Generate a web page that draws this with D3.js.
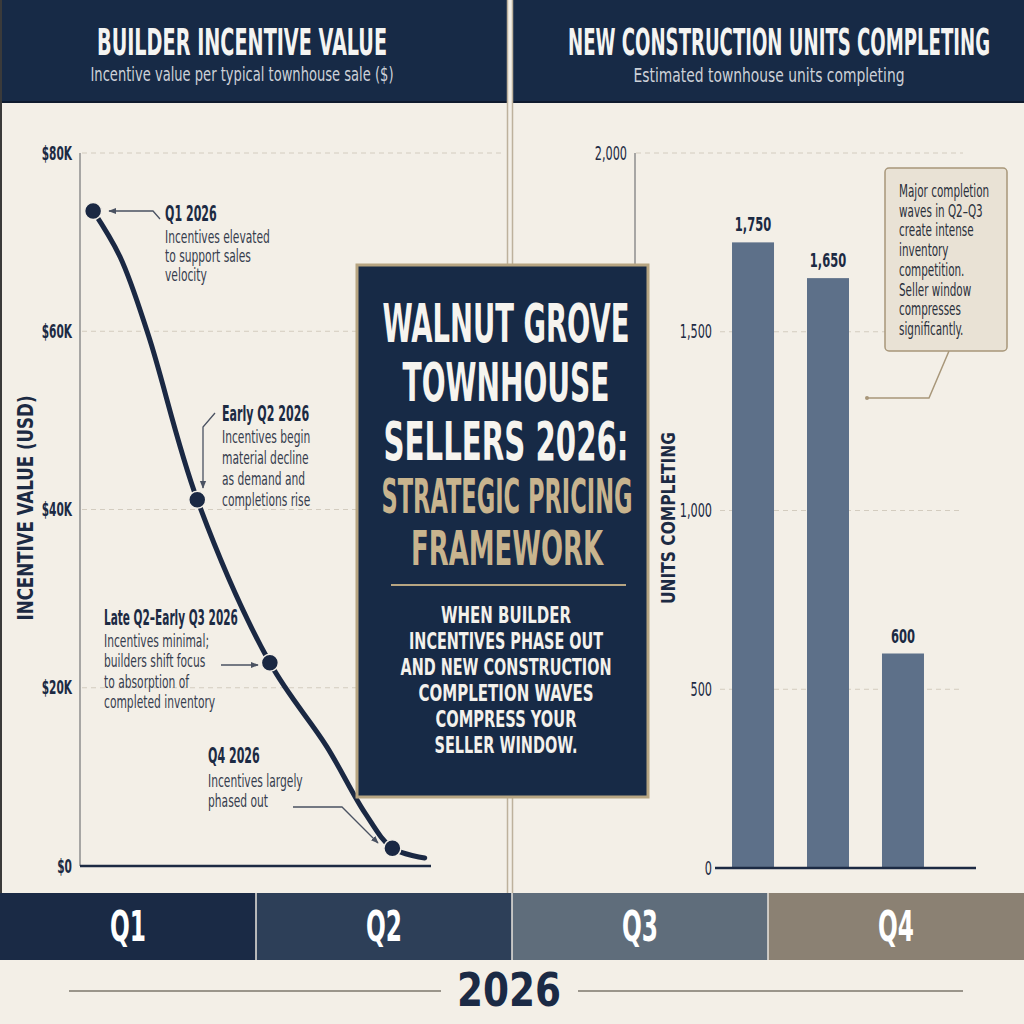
<!DOCTYPE html>
<html>
<head>
<meta charset="utf-8">
<script src="https://cdn.jsdelivr.net/npm/d3@7"></script>
<style>
body { margin: 0; background: #f3efe7; }
svg { display: block; }
text { font-family: "Liberation Sans Narrow", "Arial Narrow", "DejaVu Sans Condensed", sans-serif; }
</style>
</head>
<body>
<svg width="1024" height="1024"></svg>
<script>
// incentive curve, time in quarters of 2026 (0 = start of Q1)
const incentiveT = [0.15, 0.46, 0.78, 1.34, 2.17, 2.82, 3.26, 3.57, 3.94];
const incentiveVal = [73500, 68300, 59600, 41100, 22800, 13400, 5900, 2000, 900];
const markerIdx = [0, 3, 4, 7];
const incentiveTicks = [0, 20000, 40000, 60000, 80000];

// units completing
const unitCats = ["Q2", "Q3", "Q4"];
const unitVals = [1750, 1650, 600];
const unitTicks = [0, 500, 1000, 1500, 2000];

const quarters = ["Q1", "Q2", "Q3", "Q4"];
const yearLabel = "2026";

const noteTitles = ["Q1 2026", "Early Q2 2026", "Late Q2\u2013Early Q3 2026", "Q4 2026"];
const noteBodies = [
	["Incentives elevated", "to support sales", "velocity"],
	["Incentives begin", "material decline", "as demand and", "completions rise"],
	["Incentives minimal;", "builders shift focus", "to absorption of", "completed inventory"],
	["Incentives largely", "phased out"]
];
const boxTitle = ["WALNUT GROVE", "TOWNHOUSE", "SELLERS 2026:"];
const boxTitleGold = ["STRATEGIC PRICING", "FRAMEWORK"];
const boxBody = ["WHEN BUILDER", "INCENTIVES PHASE OUT", "AND NEW CONSTRUCTION", "COMPLETION  WAVES", "COMPRESS YOUR", "SELLER WINDOW."];
const sideNote = ["Major completion", "waves in Q2\u2013Q3", "create intense", "inventory", "competition.", "Seller window", "compresses", "significantly."];

const navy = "#172a46";
const ink = "#1c2a43";
const cream = "#f3efe7";
const tan = "#b7a582";

let svg = d3.select("svg");

// squeeze text to a given width (condensed look)
function fit(sel, w) {
	sel.attr("textLength", w).attr("lengthAdjust", "spacingAndGlyphs");
	return sel;
}
// squeeze text by a factor of its natural width
function cond(sel, f) {
	sel.each(function() {
		const l = this.getComputedTextLength();
		d3.select(this).attr("textLength", l * f).attr("lengthAdjust", "spacingAndGlyphs");
	});
	return sel;
}

// ---- header
svg.append("rect").attr("x", 0).attr("y", 0).attr("width", 1024).attr("height", 103).attr("fill", navy);
svg.append("line").attr("x1", 0).attr("x2", 1024).attr("y1", 102).attr("y2", 102)
	.attr("stroke", "#0e1a2e").attr("stroke-width", 2);

fit(svg.append("text").attr("x", 242).attr("y", 55).attr("text-anchor", "middle")
	.attr("font-size", 37).attr("font-weight", "bold").attr("fill", "#f4f4f2")
	.text("BUILDER INCENTIVE VALUE"), 290);
fit(svg.append("text").attr("x", 242).attr("y", 81).attr("text-anchor", "middle")
	.attr("font-size", 19).attr("fill", "#cdd1d8")
	.text("Incentive value per typical townhouse sale ($)"), 303);
fit(svg.append("text").attr("x", 779).attr("y", 55).attr("text-anchor", "middle")
	.attr("font-size", 37).attr("font-weight", "bold").attr("fill", "#f4f4f2")
	.text("NEW CONSTRUCTION UNITS COMPLETING"), 422);
fit(svg.append("text").attr("x", 769).attr("y", 82).attr("text-anchor", "middle")
	.attr("font-size", 19).attr("fill", "#cdd1d8")
	.text("Estimated townhouse units completing"), 271);

// ---- panel divider
svg.append("rect").attr("x", 507).attr("y", 0).attr("width", 6).attr("height", 893).attr("fill", cream);
svg.append("line").attr("x1", 507.5).attr("x2", 507.5).attr("y1", 0).attr("y2", 893).attr("stroke", "#bdb19c").attr("stroke-width", 1.5);
svg.append("line").attr("x1", 512.5).attr("x2", 512.5).attr("y1", 0).attr("y2", 893).attr("stroke", "#bdb19c").attr("stroke-width", 1.5);
svg.append("rect").attr("x", 0).attr("y", 0).attr("width", 2).attr("height", 893).attr("fill", "#3a3a3a");

// ---- left chart: builder incentives
const xL = d3.scaleLinear().domain([0, 4]).range([80, 430]);
const yL = d3.scaleLinear().domain([0, 80000]).range([866, 153]);

svg.append("g").selectAll("line").data(incentiveTicks.filter(d => d > 0)).join("line")
	.attr("x1", 82).attr("x2", 505)
	.attr("y1", d => yL(d)).attr("y2", d => yL(d))
	.attr("stroke", "#d3ccbf").attr("stroke-width", 1).attr("stroke-dasharray", "5,4");

svg.append("line").attr("x1", 80).attr("x2", 80).attr("y1", yL(80000)).attr("y2", yL(0))
	.attr("stroke", "#8e8e8e").attr("stroke-width", 1.5);
svg.append("line").attr("x1", 80).attr("x2", 431).attr("y1", yL(0)).attr("y2", yL(0))
	.attr("stroke", ink).attr("stroke-width", 2.5);

cond(svg.append("g").selectAll("text").data(incentiveTicks).join("text")
	.attr("x", 72).attr("y", d => yL(d)).attr("dy", "0.35em")
	.attr("text-anchor", "end").attr("font-size", 19).attr("font-weight", "bold").attr("fill", ink)
	.text(d => d == 0 ? "$0" : "$" + d / 1000 + "K"), 0.62);

fit(svg.append("text").attr("transform", "translate(33,508) rotate(-90)")
	.attr("text-anchor", "middle").attr("font-size", 21).attr("font-weight", "bold").attr("fill", ink)
	.text("INCENTIVE VALUE (USD)"), 225);

const pts = incentiveT.map((t, i) => ({t: t, v: incentiveVal[i]}));
const lineF = d3.line().x(d => xL(d.t)).y(d => yL(d.v)).curve(d3.curveCatmullRom.alpha(0.5));
svg.append("path").datum(pts).attr("d", lineF)
	.attr("fill", "none").attr("stroke", "#1a2843").attr("stroke-width", 5).attr("stroke-linecap", "round");

svg.append("g").selectAll("circle").data(markerIdx.map(i => pts[i])).join("circle")
	.attr("cx", d => xL(d.t)).attr("cy", d => yL(d.v)).attr("r", 8.5)
	.attr("fill", "#1a2843").attr("stroke", cream).attr("stroke-width", 1.5);

// arrowhead
svg.append("defs").append("marker").attr("id", "arr")
	.attr("viewBox", "0 0 10 10").attr("refX", 9).attr("refY", 5)
	.attr("markerWidth", 6).attr("markerHeight", 6).attr("orient", "auto")
	.append("path").attr("d", "M0,1 L10,5 L0,9 Z").attr("fill", "#4a5262");

// annotations
const notePos = [
	{x: 165, y: 221, lh: 19, path: "M160,219 L153,211 L109,211"},
	{x: 222, y: 421, lh: 21, path: "M215,413 L203,427 L203,488"},
	{x: 104, y: 625, lh: 20.3, path: "M221,665 L258,665"},
	{x: 208, y: 763, lh: 20, path: "M293,807 L342,807 L378,843"}
];
notePos.forEach((p, i) => {
	svg.append("path").attr("d", p.path).attr("fill", "none")
		.attr("stroke", "#4a5262").attr("stroke-width", 1.3).attr("marker-end", "url(#arr)");
	cond(svg.append("text").attr("x", p.x).attr("y", p.y)
		.attr("font-size", 20.5).attr("font-weight", "bold").attr("fill", ink)
		.text(noteTitles[i]), i == 2 ? 0.57 : 0.6);
	cond(svg.append("g").selectAll("text").data(noteBodies[i]).join("text")
		.attr("x", p.x).attr("y", (d, j) => p.y + 22 + j * p.lh + (i == 3 ? 2 : 0))
		.attr("font-size", 17.5).attr("fill", "#363d4e")
		.text(d => d), 0.68);
});

// ---- right chart: units completing
const xR = d3.scaleBand().domain(unitCats).range([715, 941]).paddingInner(0.44).paddingOuter(0.227);
const yR = d3.scaleLinear().domain([0, 2000]).range([868, 153]);

svg.append("g").selectAll("line").data(unitTicks.filter(d => d > 0)).join("line")
	.attr("x1", d => d == 2000 ? 636 : 720).attr("x2", 963)
	.attr("y1", d => yR(d)).attr("y2", d => yR(d))
	.attr("stroke", "#d3ccbf").attr("stroke-width", 1).attr("stroke-dasharray", "5,4");

svg.append("line").attr("x1", 635).attr("x2", 635).attr("y1", yR(2000)).attr("y2", 266)
	.attr("stroke", "#8e8e8e").attr("stroke-width", 1.5);

cond(svg.append("g").selectAll("text").data(unitTicks).join("text")
	.attr("x", d => d == 2000 ? 627 : 712).attr("y", d => yR(d)).attr("dy", "0.35em")
	.attr("text-anchor", "end").attr("font-size", 19).attr("fill", ink)
	.text(d => d3.format(",")(d)), 0.66);

svg.append("g").selectAll("rect").data(unitVals).join("rect")
	.attr("x", (d, i) => xR(unitCats[i])).attr("width", xR.bandwidth())
	.attr("y", d => yR(d)).attr("height", d => yR(0) - yR(d))
	.attr("fill", "#5d7089");

cond(svg.append("g").selectAll("text").data(unitVals).join("text")
	.attr("x", (d, i) => xR(unitCats[i]) + xR.bandwidth() / 2).attr("y", d => yR(d) - 11)
	.attr("text-anchor", "middle").attr("font-size", 20).attr("font-weight", "bold").attr("fill", ink)
	.text(d => d3.format(",")(d)), 0.64);

svg.append("line").attr("x1", 715).attr("x2", 976).attr("y1", yR(0)).attr("y2", yR(0))
	.attr("stroke", ink).attr("stroke-width", 2.5);

fit(svg.append("text").attr("transform", "translate(675,518) rotate(-90)")
	.attr("text-anchor", "middle").attr("font-size", 19).attr("font-weight", "bold").attr("fill", ink)
	.text("UNITS COMPLETING"), 172);

// side note
svg.append("path").attr("d", "M949,351 L929,398 L867,398").attr("fill", "none")
	.attr("stroke", "#a8977a").attr("stroke-width", 1.5);
svg.append("circle").attr("cx", 867).attr("cy", 398).attr("r", 2).attr("fill", "#a8977a");
svg.append("rect").attr("x", 885).attr("y", 168).attr("width", 122).attr("height", 183).attr("rx", 4)
	.attr("fill", "#e9e2d5").attr("stroke", "#a8977a").attr("stroke-width", 1.5);
cond(svg.append("g").selectAll("text").data(sideNote).join("text")
	.attr("x", 899).attr("y", (d, i) => 197 + i * 19.7)
	.attr("font-size", 17).attr("fill", "#2b303b")
	.text(d => d), 0.68);

// ---- centre box
svg.append("rect").attr("x", 357).attr("y", 265).attr("width", 291).attr("height", 532)
	.attr("fill", navy).attr("stroke", tan).attr("stroke-width", 3);
const titleW = [247, 207, 245];
svg.append("g").selectAll("text").data(boxTitle).join("text")
	.attr("x", 506).attr("y", (d, i) => 342 + i * 59)
	.attr("text-anchor", "middle").attr("font-size", 54).attr("font-weight", "bold").attr("fill", "#f6f4ef")
	.text(d => d)
	.each(function(d, i) { fit(d3.select(this), titleW[i]); });
const goldW = [251, 192];
svg.append("g").selectAll("text").data(boxTitleGold).join("text")
	.attr("x", 507).attr("y", (d, i) => 513 + i * 52)
	.attr("text-anchor", "middle").attr("font-size", 48).attr("font-weight", "bold").attr("fill", "#c8b48e")
	.text(d => d)
	.each(function(d, i) { fit(d3.select(this), goldW[i]); });
svg.append("line").attr("x1", 391).attr("x2", 626).attr("y1", 585).attr("y2", 585)
	.attr("stroke", tan).attr("stroke-width", 2);
const bodyW = [130, 194, 211, 175, 141, 143];
svg.append("g").selectAll("text").data(boxBody).join("text")
	.attr("x", 506).attr("y", (d, i) => 623 + i * 26)
	.attr("text-anchor", "middle").attr("font-size", 23).attr("font-weight", "bold").attr("fill", "#f3f1ec")
	.text(d => d)
	.each(function(d, i) { fit(d3.select(this), bodyW[i]); });

// ---- quarter band + year
const xQ = d3.scaleBand().domain(quarters).range([0, 1024]);
const qColors = ["#1a2a45", "#2d3f58", "#5f6d7b", "#8b8173"];
svg.append("g").selectAll("rect").data(quarters).join("rect")
	.attr("x", d => xQ(d)).attr("y", 893).attr("width", xQ.bandwidth()).attr("height", 67)
	.attr("fill", (d, i) => qColors[i]);
svg.append("g").selectAll("line").data(quarters.slice(1)).join("line")
	.attr("x1", d => xQ(d)).attr("x2", d => xQ(d)).attr("y1", 893).attr("y2", 960)
	.attr("stroke", "#e8e4dc").attr("stroke-width", 1.5);
svg.append("g").selectAll("text").data(quarters).join("text")
	.attr("x", d => xQ(d) + xQ.bandwidth() / 2).attr("y", 941)
	.attr("text-anchor", "middle").attr("font-size", 42).attr("font-weight", "bold").attr("fill", "#ffffff")
	.text(d => d)
	.each(function() { fit(d3.select(this), 36); });

svg.append("line").attr("x1", 69).attr("x2", 441).attr("y1", 991).attr("y2", 991).attr("stroke", "#9a958b").attr("stroke-width", 2);
svg.append("line").attr("x1", 578).attr("x2", 963).attr("y1", 991).attr("y2", 991).attr("stroke", "#9a958b").attr("stroke-width", 2);
fit(svg.append("text").attr("x", 509).attr("y", 1006).attr("text-anchor", "middle")
	.attr("font-size", 46).attr("font-weight", "bold").attr("fill", "#1b2a45")
	.text(yearLabel), 104);
</script>
</body>
</html>
